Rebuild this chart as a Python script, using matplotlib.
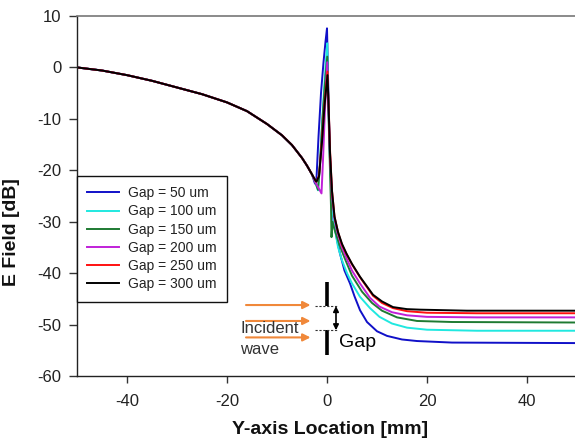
import matplotlib
matplotlib.use("Agg")
import matplotlib.pyplot as plt

plt.rcParams['font.family'] = ['Liberation Sans', 'DejaVu Sans']
plt.rcParams['axes.unicode_minus'] = False

# ---------------- data ----------------
labels = ["Gap = 50 um", "Gap = 100 um", "Gap = 150 um",
          "Gap = 200 um", "Gap = 250 um", "Gap = 300 um"]
colors = ["#1010c8", "#20e8e0", "#1e7a32", "#c020d8", "#ff1010", "#000000"]

# shared incoming part (all gaps coincide)
x_common = [-50, -45, -40, -35, -30, -25, -20, -16, -12, -9, -7, -5, -4, -3]
y_common = [0.0, -0.6, -1.5, -2.6, -3.9, -5.2, -6.8, -8.5, -11.0, -13.2,
            -15.1, -17.6, -19.1, -20.8]

x_gap50 = [-2.4, -2.1, -1.7, -1.2, -0.7, -0.3, 0.0, 0.3, 0.6, 1.0, 1.3, 2.0,
           2.6, 3.5, 4.6, 5.5, 6.6, 8.0, 10.0, 12.0, 15.0, 18.0, 25.0, 50.0]
y_gap50 = [-22.6, -21.5, -13.5, -5.0, 1.0, 5.0, 7.6, -6.0, -18.0, -26.0,
           -29.7, -33.5, -36.2, -39.5, -42.0, -44.5, -47.2, -49.5, -51.3,
           -52.2, -52.9, -53.2, -53.5, -53.6]

x_gap100 = [-2.3, -1.8, -1.5, -1.0, -0.5, -0.2, 0.05, 0.3, 0.6, 1.0, 1.5,
            2.2, 3.0, 4.0, 5.0, 6.6, 8.6, 10.5, 13.0, 16.0, 20.0, 30.0, 50.0]
y_gap100 = [-22.4, -23.9, -20.0, -11.0, -3.0, 1.5, 4.7, -8.0, -18.0, -27.0,
            -31.0, -34.9, -37.5, -40.0, -42.0, -44.6, -46.8, -48.5, -49.8,
            -50.6, -51.0, -51.2, -51.2]

x_gap150 = [-2.3, -1.8, -1.4, -0.9, -0.4, 0.05, 0.3, 0.6, 0.8, 0.9, 1.1,
            1.5, 2.5, 3.5, 5.0, 7.0, 9.0, 11.0, 14.0, 18.0, 25.0, 50.0]
y_gap150 = [-22.4, -23.8, -19.0, -10.0, -3.0, 2.1, -9.0, -20.0, -27.0,
            -33.0, -30.0, -31.5, -34.5, -37.0, -40.5, -43.6, -45.8, -47.3,
            -48.6, -49.3, -49.5, -49.6]

x_gap200 = [-2.3, -1.6, -1.1, -0.8, -0.4, 0.05, 0.3, 0.6, 1.0, 1.5, 2.2,
            3.0, 4.0, 5.0, 6.6, 8.6, 10.5, 13.0, 16.0, 20.0, 30.0, 50.0]
y_gap200 = [-22.4, -23.6, -24.5, -18.0, -8.0, 1.0, -8.0, -17.0, -25.0,
            -29.5, -32.5, -35.0, -37.3, -39.5, -42.0, -44.8, -46.5, -47.6,
            -48.2, -48.5, -48.6, -48.6]

x_gap250 = [-2.3, -2.1, -1.6, -1.0, -0.5, 0.1, 0.35, 0.6, 1.0, 1.5, 2.2,
            3.0, 3.9, 5.0, 6.6, 9.2, 11.0, 13.2, 16.0, 20.0, 30.0, 50.0]
y_gap250 = [-22.0, -22.2, -21.0, -14.0, -7.0, -0.8, -8.0, -16.0, -24.0,
            -29.0, -32.0, -34.5, -36.3, -38.3, -40.8, -44.4, -45.8, -46.8,
            -47.4, -47.7, -47.8, -47.8]

x_gap300 = [-2.3, -2.1, -1.6, -1.0, -0.5, 0.1, 0.35, 0.6, 1.0, 1.5, 2.2,
            3.0, 3.9, 5.0, 6.6, 9.2, 11.0, 13.2, 16.0, 18.6, 28.0, 50.0]
y_gap300 = [-22.0, -22.2, -21.2, -14.5, -7.5, -1.5, -8.5, -16.5, -24.0,
            -29.0, -32.0, -34.3, -36.2, -38.2, -40.7, -44.2, -45.5, -46.6,
            -47.0, -47.1, -47.3, -47.3]

series_x = [x_gap50, x_gap100, x_gap150, x_gap200, x_gap250, x_gap300]
series_y = [y_gap50, y_gap100, y_gap150, y_gap200, y_gap250, y_gap300]

x_ticks = [-40, -20, 0, 20, 40]
y_ticks = [-60, -50, -40, -30, -20, -10, 0, 10]

# ---------------- figure ----------------
fig = plt.figure(figsize=(5.75, 4.45), dpi=100)
ax = fig.add_axes([77 / 575, 69 / 445, 500 / 575, 360 / 445])

for xs, ys, c, lab in zip(series_x, series_y, colors, labels):
    ax.plot(x_common + xs, y_common + ys, color=c, lw=1.4, label=lab)

ax.set_xlim(-50, 50)
ax.set_ylim(-60, 10)
ax.set_xticks(x_ticks)
ax.set_yticks(y_ticks)
ax.tick_params(axis='both', direction='out', labelsize=12,
               labelcolor='#222222', color='#333333')
ax.tick_params(axis='y', length=6, width=1, pad=5)
ax.tick_params(axis='x', length=5, width=1, pad=8)

for s in ['left', 'bottom']:
    ax.spines[s].set_color('#222222')
    ax.spines[s].set_linewidth(1.0)
ax.spines['top'].set_color('#777777')
ax.spines['top'].set_linewidth(1.2)
ax.spines['right'].set_visible(False)

ax.set_xlabel("Y-axis Location [mm]", fontsize=14, fontweight='bold', color='#111111')
ax.set_ylabel("E Field [dB]", fontsize=14, fontweight='bold', color='#111111')
ax.xaxis.set_label_coords(0.506, -0.125)
ax.yaxis.set_label_coords(-0.114, 0.40)

leg = ax.legend(loc='upper left', bbox_to_anchor=(0.0, 0.556), borderaxespad=0,
                fontsize=10, frameon=True, fancybox=False, framealpha=1,
                edgecolor='#111111', handlelength=2.3, handletextpad=0.6,
                labelspacing=0.3, borderpad=0.75)
leg.get_frame().set_linewidth(1.0)
for t in leg.get_texts():
    t.set_color('#222222')

# ---------------- schematic annotation ----------------
arrow_color = '#f0883a'
arrow_ys = [-46.2, -49.3, -52.5]
for ya in arrow_ys:
    ax.annotate("", xy=(-3.3, ya), xytext=(-16.2, ya),
                arrowprops=dict(arrowstyle='-|>', color=arrow_color, lw=1.5,
                                mutation_scale=11, shrinkA=0, shrinkB=0))
ax.text(-17.4, -50.7, "Incident", fontsize=12, color='#333333',
        ha='left', va='center')
ax.text(-17.4, -54.8, "wave", fontsize=12, color='#333333',
        ha='left', va='center')

gap_top, gap_bot = -46.4, -51.1
ax.plot([0, 0], [-41.8, gap_top], color='black', lw=2.6, solid_capstyle='butt')
ax.plot([0, 0], [gap_bot, -56.0], color='black', lw=2.6, solid_capstyle='butt')
ax.plot([-2.4, 2.2], [gap_top, gap_top], color='#333333', lw=0.8, ls=(0, (2, 1.5)))
ax.plot([-2.4, 2.2], [gap_bot, gap_bot], color='#333333', lw=0.8, ls=(0, (2, 1.5)))
ax.annotate("", xy=(1.8, gap_top), xytext=(1.8, gap_bot),
            arrowprops=dict(arrowstyle='<|-|>', color='black', lw=1.2,
                            mutation_scale=8, shrinkA=0, shrinkB=0))
ax.text(2.4, -53.4, "Gap", fontsize=14, color='black', ha='left', va='center')

fig.savefig("out.png", dpi=100)
